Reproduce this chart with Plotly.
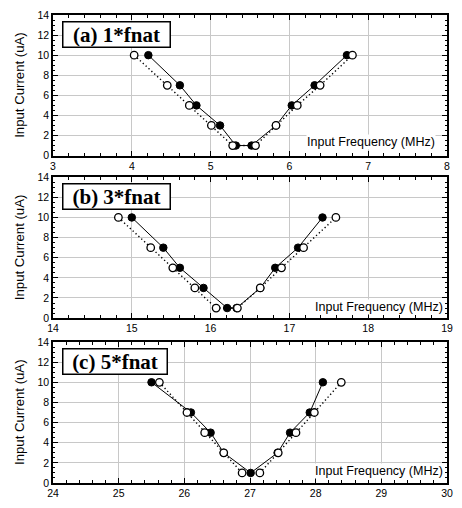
import plotly.graph_objects as go

# ---- data ----
current_levels = [10, 7, 5, 3, 1, 1, 3, 5, 7, 10]
current_levels_c_fill = [10, 7, 5, 3, 1, 3, 5, 7, 10]

freq_open_a = [4.03, 4.45, 4.73, 5.01, 5.28, 5.57, 5.83, 6.10, 6.39, 6.80]
freq_fill_a = [4.21, 4.61, 4.82, 5.12, 5.32, 5.52, 5.83, 6.03, 6.32, 6.73]

freq_open_b = [14.83, 15.24, 15.52, 15.80, 16.07, 16.34, 16.63, 16.90, 17.18, 17.59]
freq_fill_b = [15.00, 15.40, 15.61, 15.91, 16.21, 16.33, 16.63, 16.82, 17.11, 17.42]

freq_open_c = [25.62, 26.04, 26.31, 26.60, 26.88, 27.15, 27.43, 27.70, 27.98, 28.39]
freq_fill_c = [25.50, 26.10, 26.40, 26.60, 27.01, 27.42, 27.61, 27.91, 28.11]

panel_labels = ["(a) 1*fnat", "(b) 3*fnat", "(c) 5*fnat"]
x_ranges = [[3, 8], [14, 19], [24, 30]]
y_range = [0, 14]
x_title = "Input Frequency (MHz)"
y_title = "Input Current (uA)"

panels = [
    (freq_fill_a, current_levels, freq_open_a, current_levels),
    (freq_fill_b, current_levels, freq_open_b, current_levels),
    (freq_fill_c, current_levels_c_fill, freq_open_c, current_levels),
]

# ---- layout geometry ----
W, H = 462, 508
domains = [[0.6996, 1.0], [0.3523, 0.6534], [0.0, 0.3013]]
label_widths = [106, 106, 103]
xt_x = [0.972, 0.993, 0.993]
xt_y = [0.098, 0.079, 0.082]

fig = go.Figure()
sans = "Liberation Sans, Arial, sans-serif"
serif = "Liberation Serif, Times New Roman, serif"

for i, (xf, yf, xo, yo) in enumerate(panels):
    xa = "x" if i == 0 else f"x{i+1}"
    ya = "y" if i == 0 else f"y{i+1}"
    fig.add_trace(go.Scatter(x=xf, y=yf, mode="lines", xaxis=xa, yaxis=ya,
                             line=dict(color="black", width=1), showlegend=False,
                             hoverinfo="skip"))
    fig.add_trace(go.Scatter(x=xo, y=yo, mode="lines", xaxis=xa, yaxis=ya,
                             line=dict(color="black", width=1.4, dash="1.3px,2.6px"),
                             showlegend=False, hoverinfo="skip"))
    fig.add_trace(go.Scatter(x=xf, y=yf, mode="markers", xaxis=xa, yaxis=ya,
                             marker=dict(symbol="circle", size=7.5, color="black",
                                         line=dict(color="black", width=1)),
                             showlegend=False))
    fig.add_trace(go.Scatter(x=xo, y=yo, mode="markers", xaxis=xa, yaxis=ya,
                             marker=dict(symbol="circle", size=7.5, color="white",
                                         line=dict(color="black", width=1.3)),
                             showlegend=False))

    axis_common = dict(
        showline=True, linecolor="black", linewidth=1.5, mirror="ticks",
        ticks="inside", ticklen=5, tickwidth=1, tickcolor="black",
        showgrid=True, gridcolor="#c8c8c8", gridwidth=1, zeroline=False,
        tickfont=dict(family=sans, size=10.5, color="black"),
    )
    xkey = "xaxis" if i == 0 else f"xaxis{i+1}"
    ykey = "yaxis" if i == 0 else f"yaxis{i+1}"
    fig.update_layout({
        xkey: dict(axis_common, range=x_ranges[i], dtick=1, tick0=x_ranges[i][0],
                   anchor=ya, domain=[0, 1],
                   minor=dict(dtick=0.2, ticklen=3, tickcolor="black", ticks="inside",
                              showgrid=False)),
        ykey: dict(axis_common, range=y_range, dtick=2, tick0=0, anchor=xa,
                   domain=domains[i],
                   minor=dict(dtick=0.5, ticklen=2.5, tickcolor="black", ticks="inside",
                              showgrid=False)),
    })

    # panel label box
    fig.add_annotation(text=f"<b>{panel_labels[i]}</b>", xref=f"{xa} domain",
                       yref=f"{ya} domain", x=0.024, y=0.956, xanchor="left",
                       yanchor="top", showarrow=False, width=label_widths[i],
                       height=24, align="center", bgcolor="white",
                       bordercolor="black", borderwidth=1.5, borderpad=0,
                       font=dict(family=serif, size=21, color="black"))
    # x title inside plot
    fig.add_annotation(text=x_title, xref=f"{xa} domain", yref=f"{ya} domain",
                       x=xt_x[i], y=xt_y[i], xanchor="right", yanchor="middle",
                       showarrow=False, bgcolor="white", borderpad=0,
                       font=dict(family=sans, size=12.5, color="black"))
    # y title
    fig.add_annotation(text=y_title, xref="paper", yref=f"{ya} domain",
                       x=-0.085, y=0.5, xanchor="center", yanchor="middle",
                       textangle=-90, showarrow=False,
                       font=dict(family=sans, size=13.2, color="black"))

fig.update_layout(width=W, height=H, margin=dict(l=53, r=9, t=11, b=21),
                  paper_bgcolor="white", plot_bgcolor="white")

fig.write_html("out.html")
